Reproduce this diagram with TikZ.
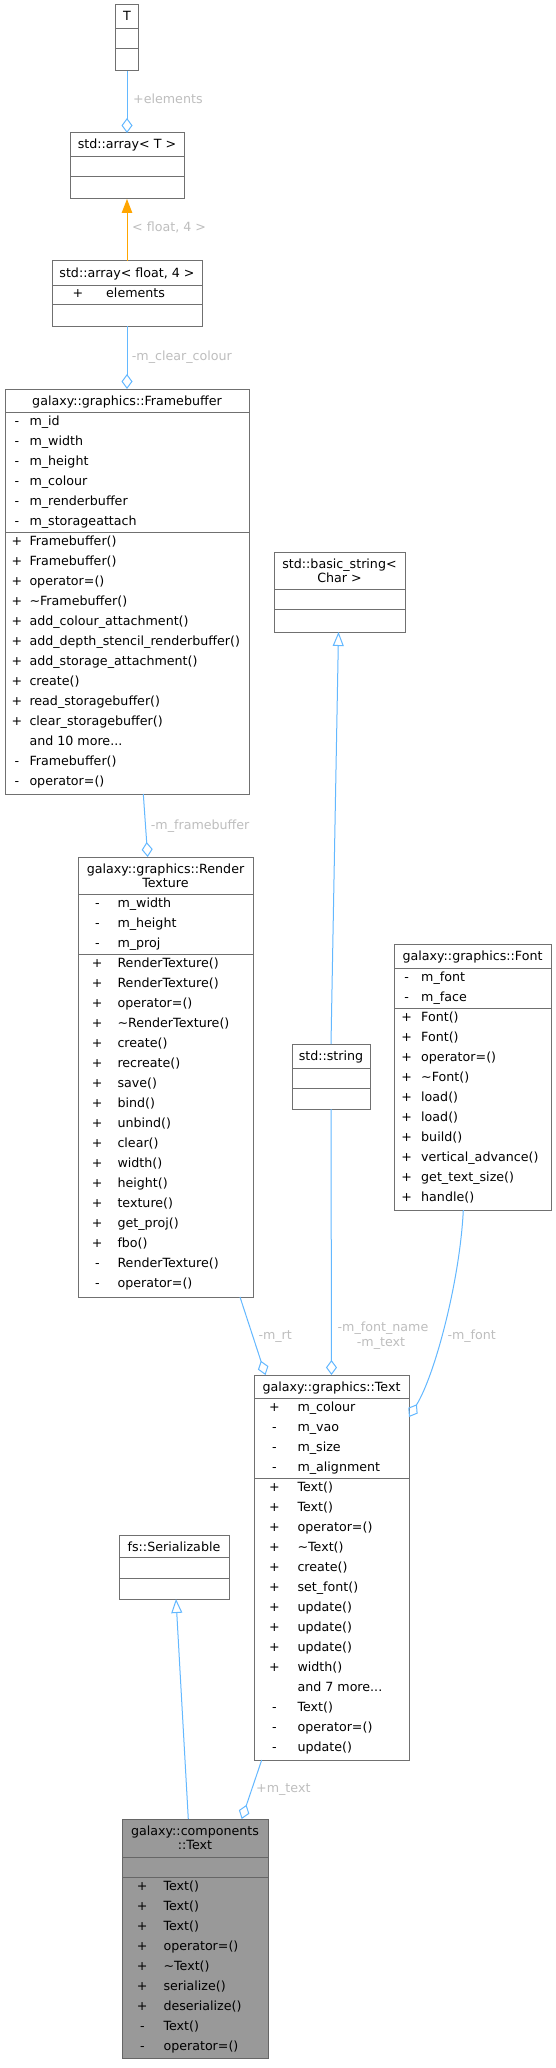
\documentclass[tikz,border=0pt]{standalone}
\usepackage{fontspec}
\setmainfont{DejaVu Sans}
\usetikzlibrary{arrows.meta}
\definecolor{boxline}{HTML}{707070}
\definecolor{compline}{HTML}{666666}
\definecolor{compfill}{HTML}{999999}
\definecolor{edgeblue}{HTML}{63B8FF}
\definecolor{tmplorange}{HTML}{FFA500}
\definecolor{lblgray}{HTML}{BEBEBE}
\newcommand\tdots{...}
\newcommand\umlrows[5]{%
  \foreach \s/\t [count=\i from 0] in {#5}{%
    \node[rowtxt,anchor=base] (#1s\i) at (#2,{#4+13.5+20*\i}) {\s};
    \node[rowtxt,anchor=base west] (#1t\i) at (#3,{#4+13.5+20*\i}) {\t};
  }}
\begin{document}
\begin{tikzpicture}[x=1pt,y=-1pt,
  font=\fontsize{12.66}{14.6}\selectfont,
  cls/.style={rectangle,draw=boxline,fill=white,line width=1pt,inner sep=0pt,outer sep=0pt,anchor=north west},
  compcls/.style={cls,draw=compline,fill=compfill},
  hdr/.style={inner sep=0pt,anchor=base},
  rowtxt/.style={inner sep=0pt},
  lbl/.style={inner sep=0pt,text=lblgray,anchor=base west},
  divl/.style={draw=boxline,line width=1pt},
  cdivl/.style={draw=compline,line width=1pt},
  agg/.style={draw=edgeblue,line width=1pt,{Diamond[open,length=15pt,width=11pt]}-},
  inh/.style={draw=edgeblue,line width=1pt,-{Triangle[open,length=14pt,width=11pt]}},
  tmpl/.style={draw=tmplorange,line width=1pt,-{Triangle[length=14pt,width=10.5pt,fill=tmplorange]}}]
\fill[white] (0,0) rectangle (556,2068);
\useasboundingbox (0,0) rectangle (556,2068);

% ---------- T
\node[cls,minimum width=23pt,minimum height=66pt] (T) at (115.5,5) {};
\node[hdr] (Th) at (127,21) {T};
\draw[divl] (115.5,29) -- (138.5,29);
\draw[divl] (115.5,49) -- (138.5,49);

% ---------- std::array< T >
\node[cls,minimum width=114pt,minimum height=66pt] (arrT) at (70,133) {};
\node[hdr] (arrTh) at (127,149) {std::array< T >};
\draw[divl] (70,157) -- (184,157);
\draw[divl] (70,177) -- (184,177);

% ---------- std::array< float, 4 >
\node[cls,minimum width=150pt,minimum height=65pt] (arrF) at (52,261) {};
\node[hdr] (arrFh) at (127,277) {std::array< float, 4 >};
\draw[divl] (52,285) -- (202,285);
\draw[divl] (52,304.5) -- (202,304.5);
\umlrows{arrF}{78}{106}{284.5}{+/elements}

% ---------- Framebuffer
\node[cls,minimum width=244pt,minimum height=405pt] (fb) at (5,389) {};
\node[hdr] (fbh) at (127,405) {galaxy::graphics::Framebuffer};
\draw[divl] (5,412) -- (249,412);
\draw[divl] (5,532) -- (249,532);
\umlrows{fba}{17}{29.3}{412}{-/m\_id,-/m\_width,-/m\_height,-/m\_colour,-/m\_renderbuffer,-/m\_storageattach}
\umlrows{fbm}{17}{29.3}{532}{+/Framebuffer(),+/Framebuffer(),+/operator=(),+/\textasciitilde Framebuffer(),+/add\_colour\_attachment(),+/add\_depth\_stencil\_renderbuffer(),+/add\_storage\_attachment(),+/create(),+/read\_storagebuffer(),+/clear\_storagebuffer(),{}/and 10 more\tdots,-/Framebuffer(),-/operator=()}

% ---------- RenderTexture
\node[cls,minimum width=175pt,minimum height=440pt] (rt) at (78,857) {};
\node[hdr] (rth1) at (165.5,873.3) {galaxy::graphics::Render};
\node[hdr] (rth2) at (165.5,887.7) {Texture};
\draw[divl] (78,894) -- (253,894);
\draw[divl] (78,954) -- (253,954);
\umlrows{rta}{97.3}{117.3}{894}{-/m\_width,-/m\_height,-/m\_proj}
\umlrows{rtm}{97.3}{117.3}{954}{+/RenderTexture(),+/RenderTexture(),+/operator=(),+/\textasciitilde RenderTexture(),+/create(),+/recreate(),+/save(),+/bind(),+/unbind(),+/clear(),+/width(),+/height(),+/texture(),+/get\_proj(),+/fbo(),-/RenderTexture(),-/operator=()}

% ---------- std::basic_string< Char >
\node[cls,minimum width=131pt,minimum height=80pt] (bs) at (274,552) {};
\node[hdr] (bsh1) at (339.5,568.5) {std::basic\_string<};
\node[hdr] (bsh2) at (339.5,582.5) {Char >};
\draw[divl] (274,589) -- (405,589);
\draw[divl] (274,609) -- (405,609);

% ---------- std::string
\node[cls,minimum width=78pt,minimum height=65pt] (str) at (292,1044) {};
\node[hdr] (strh) at (331,1060) {std::string};
\draw[divl] (292,1068) -- (370,1068);
\draw[divl] (292,1088) -- (370,1088);

% ---------- Font
\node[cls,minimum width=157pt,minimum height=266pt] (font) at (394,944) {};
\node[hdr] (fonth) at (472.5,960) {galaxy::graphics::Font};
\draw[divl] (394,968) -- (551,968);
\draw[divl] (394,1008) -- (551,1008);
\umlrows{fnta}{406.7}{421}{968}{-/m\_font,-/m\_face}
\umlrows{fntm}{406.7}{421}{1008}{+/Font(),+/Font(),+/operator=(),+/\textasciitilde Font(),+/load(),+/load(),+/build(),+/vertical\_advance(),+/get\_text\_size(),+/handle()}

% ---------- graphics::Text
\node[cls,minimum width=155pt,minimum height=385pt] (text) at (254,1375) {};
\node[hdr] (texth) at (331.5,1391) {galaxy::graphics::Text};
\draw[divl] (254,1398) -- (409,1398);
\draw[divl] (254,1478) -- (409,1478);
\umlrows{txa}{274.3}{297.3}{1398}{+/m\_colour,-/m\_vao,-/m\_size,-/m\_alignment}
\umlrows{txm}{274.3}{297.3}{1478}{+/Text(),+/Text(),+/operator=(),+/\textasciitilde Text(),+/create(),+/set\_font(),+/update(),+/update(),+/update(),+/width(),{}/and 7 more\tdots,-/Text(),-/operator=(),-/update()}

% ---------- fs::Serializable
\node[cls,minimum width=110pt,minimum height=64pt] (ser) at (119,1535) {};
\node[hdr] (serh) at (174,1551) {fs::Serializable};
\draw[divl] (119,1557) -- (229,1557);
\draw[divl] (119,1578) -- (229,1578);

% ---------- components::Text
\node[compcls,minimum width=146pt,minimum height=239pt] (comp) at (122,1819) {};
\node[hdr] (comph1) at (195,1835.5) {galaxy::components};
\node[hdr] (comph2) at (195,1849.8) {::Text};
\draw[cdivl] (122,1857) -- (268,1857);
\draw[cdivl] (122,1877) -- (268,1877);
\umlrows{cpm}{142.3}{163.3}{1877}{+/Text(),+/Text(),+/Text(),+/operator=(),+/\textasciitilde Text(),+/serialize(),+/deserialize(),-/Text(),-/operator=()}

% ---------- connectors
\draw[agg] (arrT.north) -- (T.south);
\draw[tmpl] (arrF.north) -- (arrT.south);
\draw[agg] (fb.north) -- (arrF.south);
\draw[agg] ([xshift=-17.8pt]rt.north) -- ([xshift=16.3pt]fb.south);
\draw[agg] ([xshift=-66pt]text.north) -- ([xshift=74.5pt]rt.south);
\draw[inh] (str.north) -- ([xshift=-1pt]bs.south);
\draw[agg] (text.north) -- (str.south);
\draw[agg] ([yshift=-42pt]text.north east) .. controls (435,1375) and (460,1280) .. ([xshift=-9.2pt]font.south);
\draw[inh] ([xshift=-6.7pt]comp.north) -- ([xshift=2pt]ser.south);
\draw[agg] ([xshift=46.7pt]comp.north) -- ([xshift=-69.8pt]text.south);

% ---------- labels
\node[lbl] (lel) at (133,104) {+elements};
\node[lbl] (lfl) at (132,232) {< float, 4 >};
\node[lbl] (lcc) at (131.7,360.5) {-m\_clear\_colour};
\node[lbl] (lfb) at (150.7,829) {-m\_framebuffer};
\node[lbl] (lrt) at (258.3,1339) {-m\_rt};
\node[lbl,anchor=base] (lfn) at (383,1331.5) {-m\_font\_name};
\node[lbl,anchor=base] (ltx) at (381,1346) {-m\_text};
\node[lbl] (lf) at (447.3,1339) {-m\_font};
\node[lbl] (lmt) at (256,1792) {+m\_text};
\end{tikzpicture}
\end{document}
